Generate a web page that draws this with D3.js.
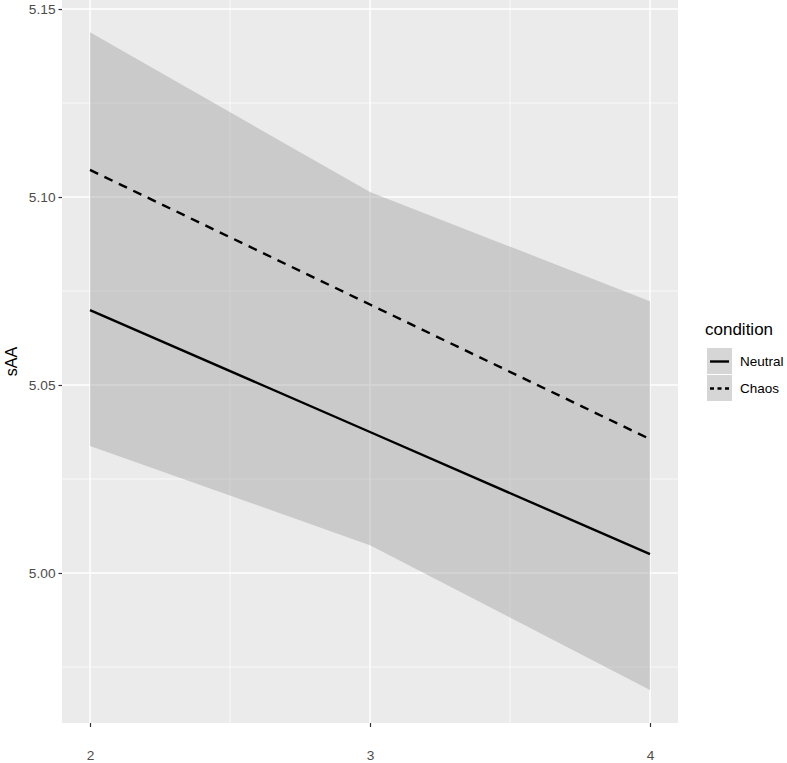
<!DOCTYPE html>
<html>
<head>
<meta charset="utf-8">
<script src="https://cdn.jsdelivr.net/npm/d3@7"></script>
<style>
  body { margin: 0; background: #fff; }
  text { font-family: "Liberation Sans", Arial, sans-serif; }
  .tick text { font-size: 13.7px; fill: #4d4d4d; }
</style>
</head>
<body>
<div id="chart"></div>
<script>
// data
const xs = [2, 3, 4];
const neutral = [5.0699, 5.0375, 5.0050];
const chaos = [5.1072, 5.0714, 5.0356];
const bandUpper = [5.1438, 5.1013, 5.0723];
const bandLower = [5.0338, 5.0074, 4.9689];
const conditions = ["Neutral", "Chaos"];
const yTicks = [5.00, 5.05, 5.10, 5.15];
const yMinor = [4.975, 5.025, 5.075, 5.125];
const xTicks = [2, 3, 4];
const xMinor = [2.5, 3.5];

const width = 787, height = 763;
const panel = {left: 62, right: 678, top: 0, bottom: 723};

const svg = d3.select("#chart").append("svg")
    .attr("width", width)
    .attr("height", height);

const x = d3.scaleLinear().domain([1.9, 4.1]).range([panel.left, panel.right]);
const y = d3.scaleLinear().domain([4.9601, 5.1524]).range([panel.bottom, panel.top]);

// panel background
svg.append("rect")
    .attr("x", panel.left).attr("y", panel.top)
    .attr("width", panel.right - panel.left)
    .attr("height", panel.bottom - panel.top)
    .attr("fill", "#ebebeb");

const grid = svg.append("g").attr("stroke", "#fff").attr("fill", "none");
grid.selectAll(".ym").data(yMinor).enter().append("line")
    .attr("x1", panel.left).attr("x2", panel.right)
    .attr("y1", d => y(d)).attr("y2", d => y(d))
    .attr("stroke-width", 0.7);
grid.selectAll(".xm").data(xMinor).enter().append("line")
    .attr("y1", panel.top).attr("y2", panel.bottom)
    .attr("x1", d => x(d)).attr("x2", d => x(d))
    .attr("stroke-width", 0.7);
grid.selectAll(".yM").data(yTicks).enter().append("line")
    .attr("x1", panel.left).attr("x2", panel.right)
    .attr("y1", d => y(d)).attr("y2", d => y(d))
    .attr("stroke-width", 1.4);
grid.selectAll(".xM").data(xTicks).enter().append("line")
    .attr("y1", panel.top).attr("y2", panel.bottom)
    .attr("x1", d => x(d)).attr("x2", d => x(d))
    .attr("stroke-width", 1.4);

// confidence band
const band = xs.map((d, i) => ({x: d, lo: bandLower[i], hi: bandUpper[i]}));
svg.append("path")
    .datum(band)
    .attr("fill", "#999999")
    .attr("fill-opacity", 0.4)
    .attr("d", d3.area().x(d => x(d.x)).y0(d => y(d.lo)).y1(d => y(d.hi)));

const line = d3.line().x(d => x(d[0])).y(d => y(d[1]));
svg.append("path")
    .datum(xs.map((d, i) => [d, neutral[i]]))
    .attr("fill", "none").attr("stroke", "#000").attr("stroke-width", 2.4)
    .attr("d", line);
svg.append("path")
    .datum(xs.map((d, i) => [d, chaos[i]]))
    .attr("fill", "none").attr("stroke", "#000").attr("stroke-width", 2.4)
    .attr("stroke-dasharray", "9,7")
    .attr("d", line);

// axes
const yAxis = svg.append("g")
    .attr("transform", `translate(${panel.left},0)`)
    .call(d3.axisLeft(y).tickValues(yTicks).tickFormat(d3.format(".2f")).tickSize(3.5).tickPadding(3));
yAxis.select(".domain").remove();
yAxis.selectAll("line").attr("stroke", "#333").attr("stroke-width", 1.2);

const xAxis = svg.append("g")
    .attr("transform", `translate(0,${panel.bottom})`)
    .call(d3.axisBottom(x).tickValues(xTicks).tickFormat(d3.format("d")).tickSize(4).tickPadding(23));
xAxis.select(".domain").remove();
xAxis.selectAll("line").attr("stroke", "#333").attr("stroke-width", 1.2);

svg.append("text")
    .attr("transform", `translate(17,${(panel.top + panel.bottom) / 2}) rotate(-90)`)
    .attr("text-anchor", "middle")
    .attr("font-size", 16)
    .text("sAA");

// legend
const lg = svg.append("g").attr("transform", "translate(705,0)");
lg.append("text").attr("x", 0).attr("y", 335).attr("font-size", 17).text("condition");
const key = lg.selectAll(".key").data(conditions).enter().append("g")
    .attr("transform", (d, i) => `translate(2,${348 + i * 27})`);
key.append("rect").attr("width", 25).attr("height", 26)
    .attr("fill", "#999999").attr("fill-opacity", 0.4);
key.append("line")
    .attr("x1", 3).attr("x2", 22).attr("y1", 13.5).attr("y2", 13.5)
    .attr("stroke", "#000").attr("stroke-width", 2.4)
    .attr("stroke-dasharray", (d, i) => i === 1 ? "4,3.5" : null);
key.append("text")
    .attr("x", 33).attr("y", 13.5).attr("dy", "0.35em")
    .attr("font-size", 13.5)
    .text(d => d);
</script>
</body>
</html>
